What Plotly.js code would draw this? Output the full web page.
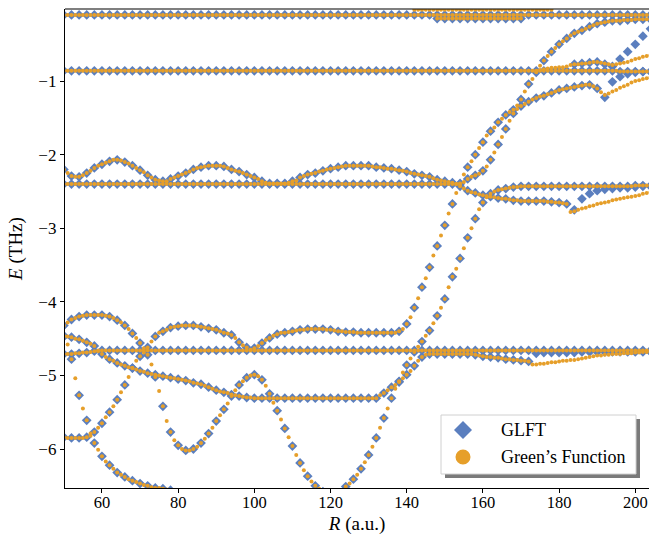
<!DOCTYPE html>
<html><head><meta charset="utf-8">
<script src="https://cdn.plot.ly/plotly-3.0.1.min.js"></script>
<style>html,body{margin:0;padding:0;background:#fff}#chart{width:649px;height:535px}</style>
</head><body><div id="chart"></div>
<script>
// ---- data (E in THz, read at integer R = r0, r0+1, ...) ----
const xTicks = [60, 80, 100, 120, 140, 160, 180, 200];
const yTicks = [-1, -2, -3, -4, -5, -6];
const yTickText = ['\u22121', '\u22122', '\u22123', '\u22124', '\u22125', '\u22126'];
const legendNames = ['GLFT', 'Green\u2019s Function'];

const bandA_r0 = 50;
const bandA = [
-0.10,-0.10,-0.10,-0.10,-0.10,-0.10,-0.10,-0.10,-0.10,-0.10,
-0.10,-0.10,-0.10,-0.10,-0.10,-0.10,-0.10,-0.10,-0.10,-0.10,
-0.10,-0.10,-0.10,-0.10,-0.10,-0.10,-0.10,-0.10,-0.10,-0.10,
-0.10,-0.10,-0.10,-0.10,-0.10,-0.10,-0.10,-0.10,-0.10,-0.10,
-0.10,-0.10,-0.10,-0.10,-0.10,-0.10,-0.10,-0.10,-0.10,-0.10,
-0.10,-0.10,-0.10,-0.10,-0.10,-0.10,-0.10,-0.10,-0.10,-0.10,
-0.10,-0.10,-0.10,-0.10,-0.10,-0.10,-0.10,-0.10,-0.10,-0.10,
-0.10,-0.10,-0.10,-0.10,-0.10,-0.10,-0.10,-0.10,-0.10,-0.10,
-0.10,-0.10,-0.10,-0.10,-0.10,-0.10,-0.10,-0.10,-0.10,-0.10,
-0.10,-0.10,-0.10,-0.10,-0.10,-0.10,-0.10,-0.10,-0.10,-0.10,
-0.10,-0.10,-0.10,-0.10,-0.10,-0.10,-0.10,-0.10,-0.10,-0.10,
-0.10,-0.10,-0.10,-0.10,-0.10,-0.10,-0.10,-0.10,-0.10,-0.10,
-0.10,-0.10,-0.10,-0.10,-0.10,-0.10,-0.10,-0.10,-0.10,-0.10,
-0.10,-0.10,-0.10,-0.10,-0.10,-0.10,-0.10,-0.10,-0.10,-0.10,
-0.10,-0.10,-0.10,-0.10,-0.10,-0.10,-0.10,-0.10,-0.10,-0.10,
-0.10,-0.10,-0.10,-0.10,-0.10];

const bandA2_r0 = 148;
const bandA2 = [
-0.15,-0.15,-0.15,-0.15,-0.15,-0.15,-0.15,-0.15,-0.15,-0.15,
-0.15,-0.15,-0.15,-0.15,-0.15,-0.15,-0.15,-0.15,-0.15,-0.15,
-0.15,-0.15,-0.15];

const bandA3_r0 = 142;   // Green's function only
const bandA3 = [
-0.03,-0.03,-0.03,-0.03,-0.03,-0.03,-0.03,-0.03,-0.03,-0.03,
-0.03,-0.03,-0.03,-0.03,-0.03,-0.03,-0.03,-0.03,-0.03,-0.03,
-0.03,-0.03,-0.03,-0.03,-0.03,-0.03,-0.03,-0.03,-0.03,-0.03,
-0.03,-0.03,-0.03,-0.03,-0.03,-0.03,-0.03];

const bandB_r0 = 50;
const bandB = [
-0.86,-0.86,-0.86,-0.86,-0.86,-0.86,-0.86,-0.86,-0.86,-0.86,
-0.86,-0.86,-0.86,-0.86,-0.86,-0.86,-0.86,-0.86,-0.86,-0.86,
-0.86,-0.86,-0.86,-0.86,-0.86,-0.86,-0.86,-0.86,-0.86,-0.86,
-0.86,-0.86,-0.86,-0.86,-0.86,-0.86,-0.86,-0.86,-0.86,-0.86,
-0.86,-0.86,-0.86,-0.86,-0.86,-0.86,-0.86,-0.86,-0.86,-0.86,
-0.86,-0.86,-0.86,-0.86,-0.86,-0.86,-0.86,-0.86,-0.86,-0.86,
-0.86,-0.86,-0.86,-0.86,-0.86,-0.86,-0.86,-0.86,-0.86,-0.86,
-0.86,-0.86,-0.86,-0.86,-0.86,-0.86,-0.86,-0.86,-0.86,-0.86,
-0.86,-0.86,-0.86,-0.86,-0.86,-0.86,-0.86,-0.86,-0.86,-0.86,
-0.86,-0.86,-0.86,-0.86,-0.86,-0.86,-0.86,-0.86,-0.86,-0.86,
-0.86,-0.86,-0.86,-0.86,-0.86,-0.86,-0.86,-0.86,-0.86,-0.86,
-0.86,-0.86,-0.86,-0.86,-0.86,-0.86,-0.86,-0.86,-0.86,-0.86,
-0.86,-0.86,-0.86,-0.86,-0.86,-0.86,-0.86,-0.86,-0.86,-0.86,
-0.86,-0.86,-0.86,-0.86,-0.86,-0.86,-0.86,-0.86,-0.86,-0.86,
-0.86,-0.86,-0.86,-0.86,-0.86,-0.86,-0.87,-0.87,-0.87,-0.87,
-0.87,-0.87,-0.87,-0.87,-0.87];

const bandBup_r0 = 174;
const bandBup = [
-0.86,-0.85,-0.84,-0.83,-0.82,-0.82,-0.81,-0.81,-0.80,-0.78,
-0.77,-0.77,-0.76,-0.76,-0.75,-0.74,-0.74,-0.75,-0.76,-0.77,
-0.78,-0.77,-0.76,-0.75,-0.74,-0.72,-0.70,-0.69,-0.67,-0.66,
-0.65];
const bandBup_glft_r0 = 184;   // GLFT, every 2 in R
const bandBup_glft = [-0.77,-0.76,-0.75,-0.74,-0.77,-0.80,-0.70,-0.60,-0.50,-0.39,-0.29];

const bandC_r0 = 50;
const bandC = [
-2.40,-2.40,-2.40,-2.40,-2.40,-2.40,-2.40,-2.40,-2.40,-2.40,
-2.40,-2.40,-2.40,-2.40,-2.40,-2.40,-2.40,-2.40,-2.40,-2.40,
-2.40,-2.40,-2.40,-2.40,-2.40,-2.40,-2.40,-2.40,-2.40,-2.40,
-2.40,-2.40,-2.40,-2.40,-2.40,-2.40,-2.40,-2.40,-2.40,-2.40,
-2.40,-2.40,-2.40,-2.40,-2.40,-2.40,-2.40,-2.40,-2.40,-2.40,
-2.40,-2.40,-2.40,-2.40,-2.40,-2.40,-2.40,-2.40,-2.40,-2.40,
-2.40,-2.40,-2.40,-2.40,-2.40,-2.40,-2.40,-2.40,-2.40,-2.40,
-2.40,-2.40,-2.40,-2.40,-2.40,-2.40,-2.40,-2.40,-2.40,-2.40,
-2.40,-2.40,-2.40,-2.40,-2.40,-2.40,-2.40,-2.40,-2.40,-2.40,
-2.40,-2.40,-2.40,-2.40,-2.40,-2.40,-2.40,-2.40,-2.40,-2.40,
-2.40,-2.40,-2.40,-2.40,-2.39,-2.37,-2.33,-2.30,-2.28,-2.26,
-2.22,-2.16,-2.07,-1.97,-1.86,-1.76,-1.65,-1.54,-1.44,-1.38,
-1.34,-1.31,-1.28,-1.25,-1.23,-1.21,-1.20,-1.18,-1.16,-1.14,
-1.12,-1.11,-1.10,-1.09,-1.08,-1.07,-1.06,-1.05,-1.05,-1.07,
-1.10,-1.15,-1.19,-1.17,-1.14,-1.12,-1.09,-1.07,-1.05,-1.02,
-1.00,-0.99,-0.97,-0.96,-0.95];
const bandC_glft_r0 = 190;
const bandC_glft = [-1.10,-1.22,-1.01,-0.94,-0.90,-0.88,-0.87,-0.87];

const bandD_r0 = 50;
const bandD = [
-2.20,-2.25,-2.29,-2.30,-2.30,-2.28,-2.25,-2.22,-2.18,-2.15,
-2.13,-2.11,-2.09,-2.07,-2.07,-2.08,-2.10,-2.12,-2.15,-2.18,
-2.21,-2.24,-2.28,-2.31,-2.34,-2.35,-2.36,-2.36,-2.33,-2.31,
-2.29,-2.27,-2.25,-2.23,-2.20,-2.18,-2.17,-2.16,-2.15,-2.15,
-2.15,-2.15,-2.16,-2.18,-2.20,-2.22,-2.23,-2.25,-2.27,-2.29,
-2.31,-2.33,-2.36,-2.38,-2.39,-2.39,-2.39,-2.39,-2.39,-2.38,
-2.36,-2.35,-2.31,-2.29,-2.27,-2.26,-2.25,-2.23,-2.22,-2.20,
-2.19,-2.18,-2.17,-2.16,-2.15,-2.15,-2.15,-2.15,-2.15,-2.15,
-2.15,-2.16,-2.17,-2.17,-2.18,-2.19,-2.19,-2.20,-2.21,-2.22,
-2.23,-2.25,-2.26,-2.27,-2.28,-2.29,-2.30,-2.32,-2.34,-2.35,
-2.36,-2.37,-2.38,-2.40,-2.43,-2.46,-2.49,-2.51,-2.52,-2.54,
-2.55,-2.56,-2.57,-2.58,-2.59,-2.60,-2.60,-2.61,-2.62,-2.62,
-2.63,-2.63,-2.63,-2.63,-2.63,-2.63,-2.63,-2.64,-2.64,-2.65,
-2.65,-2.66,-2.67,-2.78,-2.77,-2.75,-2.73,-2.72,-2.70,-2.69,
-2.67,-2.66,-2.65,-2.64,-2.62,-2.61,-2.60,-2.59,-2.58,-2.57,
-2.56,-2.55,-2.53,-2.52,-2.51];
const bandD_glft_r0 = 184;
const bandD_glft = [-2.75,-2.60,-2.53,-2.49,-2.47,-2.46,-2.45,-2.45,-2.44,-2.43,-2.43];

const bandE_r0 = 50;
const bandE = [
-4.71,-4.71,-4.71,-4.70,-4.70,-4.69,-4.69,-4.68,-4.67,-4.67,
-4.66,-4.66,-4.66,-4.66,-4.66,-4.66,-4.66,-4.66,-4.66,-4.66,
-4.66,-4.66,-4.66,-4.66,-4.66,-4.66,-4.66,-4.66,-4.66,-4.66,
-4.66,-4.66,-4.66,-4.66,-4.66,-4.66,-4.66,-4.66,-4.66,-4.66,
-4.66,-4.66,-4.66,-4.66,-4.66,-4.66,-4.66,-4.66,-4.66,-4.66,
-4.66,-4.66,-4.66,-4.66,-4.66,-4.66,-4.66,-4.66,-4.66,-4.66,
-4.66,-4.66,-4.66,-4.66,-4.66,-4.66,-4.66,-4.66,-4.66,-4.66,
-4.66,-4.66,-4.66,-4.66,-4.66,-4.66,-4.66,-4.66,-4.66,-4.66,
-4.66,-4.66,-4.66,-4.66,-4.66,-4.66,-4.66,-4.66,-4.66,-4.66,
-4.66,-4.66,-4.66,-4.66,-4.66,-4.66,-4.66,-4.66,-4.66,-4.66,
-4.66,-4.66,-4.66,-4.66,-4.66,-4.66,-4.66,-4.66,-4.66,-4.66,
-4.66,-4.66,-4.66,-4.66,-4.66,-4.66,-4.66,-4.66,-4.66,-4.66,
-4.66,-4.66,-4.66,-4.66,-4.66,-4.66,-4.66,-4.66,-4.66,-4.66,
-4.66,-4.66,-4.66,-4.66,-4.66,-4.66,-4.66,-4.66,-4.66,-4.66,
-4.66,-4.66,-4.66,-4.66,-4.66,-4.66,-4.66,-4.66,-4.66,-4.66,
-4.66,-4.66,-4.66,-4.66,-4.66];

const bandFV_r0 = 50;
const bandFV = [
-4.32,-4.28,-4.24,-4.22,-4.20,-4.19,-4.18,-4.18,-4.18,-4.18,
-4.18,-4.19,-4.20,-4.22,-4.25,-4.28,-4.32,-4.37,-4.43,-4.49,
-4.56,-4.63,-4.72,-4.85,-5.02,-5.21,-5.42,-5.62,-5.77,-5.88,
-5.95,-6.00,-6.02,-6.02,-6.00,-5.97,-5.92,-5.86,-5.79,-5.71,
-5.62,-5.54,-5.46,-5.38,-5.28,-5.20,-5.13,-5.08,-5.03,-5.00,
-4.99,-5.01,-5.06,-5.14,-5.25,-5.37,-5.48,-5.60,-5.72,-5.84,
-5.96,-6.08,-6.19,-6.29,-6.37,-6.44,-6.50,-6.54,-6.58,-6.61,
-6.62,-6.62,-6.61,-6.57,-6.51,-6.47,-6.41,-6.35,-6.27,-6.18,
-6.08,-5.97,-5.85,-5.71,-5.58,-5.45,-5.31,-5.18,-5.08,-4.96,
-4.86,-4.77,-4.68,-4.61,-4.54,-4.46,-4.39,-4.29,-4.19,-4.08,
-3.96,-3.80,-3.66,-3.55,-3.41,-3.27,-3.13,-3.00,-2.87,-2.74,
-2.65,-2.58,-2.53,-2.50,-2.48,-2.47,-2.46,-2.45,-2.44,-2.44,
-2.43,-2.43,-2.43,-2.43,-2.43,-2.43,-2.43,-2.43,-2.43,-2.43,
-2.43,-2.43,-2.43,-2.43,-2.43,-2.43,-2.43,-2.43,-2.43,-2.43,
-2.43,-2.43,-2.43,-2.43,-2.43,-2.43,-2.43,-2.43,-2.43,-2.43,
-2.42,-2.42,-2.42,-2.42,-2.42];

const bandHL_r0 = 50;
const bandHL = [
-5.84,-5.85,-5.85,-5.85,-5.85,-5.85,-5.84,-5.82,-5.77,-5.71,
-5.65,-5.57,-5.50,-5.42,-5.33,-5.23,-5.13,-5.02,-4.90,-4.80,
-4.74,-4.69,-4.62,-4.54,-4.47,-4.42,-4.40,-4.38,-4.35,-4.34,
-4.33,-4.32,-4.32,-4.32,-4.32,-4.33,-4.34,-4.35,-4.36,-4.37,
-4.38,-4.40,-4.42,-4.43,-4.45,-4.49,-4.55,-4.59,-4.62,-4.65,
-4.63,-4.60,-4.56,-4.52,-4.49,-4.46,-4.44,-4.42,-4.42,-4.41,
-4.40,-4.39,-4.38,-4.38,-4.37,-4.37,-4.37,-4.37,-4.37,-4.38,
-4.38,-4.39,-4.40,-4.40,-4.41,-4.41,-4.41,-4.42,-4.42,-4.42,
-4.42,-4.42,-4.42,-4.42,-4.42,-4.42,-4.42,-4.42,-4.40,-4.37,
-4.30,-4.21,-4.08,-3.95,-3.80,-3.68,-3.53,-3.37,-3.24,-3.10,
-2.96,-2.80,-2.67,-2.52,-2.40,-2.27,-2.17,-2.09,-2.00,-1.91,
-1.83,-1.74,-1.68,-1.63,-1.56,-1.51,-1.46,-1.42,-1.39,-1.33,
-1.25,-1.14,-1.04,-0.97,-0.88,-0.79,-0.72,-0.66,-0.60,-0.55,
-0.50,-0.46,-0.42,-0.38,-0.35,-0.33,-0.31,-0.29,-0.26,-0.24,
-0.22,-0.21,-0.20,-0.19,-0.18,-0.18,-0.18,-0.17,-0.17,-0.17,
-0.16,-0.16,-0.16,-0.16,-0.16];

const bandG_r0 = 50;
const bandG = [
-4.46,-4.47,-4.48,-4.50,-4.51,-4.53,-4.55,-4.57,-4.60,-4.66,
-4.71,-4.75,-4.78,-4.80,-4.83,-4.85,-4.87,-4.89,-4.90,-4.92,
-4.94,-4.95,-4.97,-4.98,-4.99,-5.00,-5.01,-5.02,-5.03,-5.04,
-5.05,-5.06,-5.07,-5.08,-5.10,-5.11,-5.12,-5.14,-5.16,-5.18,
-5.20,-5.22,-5.23,-5.24,-5.26,-5.27,-5.28,-5.29,-5.30,-5.30,
-5.31,-5.31,-5.31,-5.31,-5.31,-5.31,-5.31,-5.31,-5.31,-5.31,
-5.31,-5.31,-5.31,-5.31,-5.31,-5.31,-5.31,-5.31,-5.31,-5.31,
-5.31,-5.31,-5.31,-5.31,-5.31,-5.31,-5.31,-5.31,-5.31,-5.31,
-5.31,-5.31,-5.31,-5.27,-5.24,-5.20,-5.16,-5.13,-5.09,-5.04,
-4.99,-4.94,-4.87,-4.80,-4.75,-4.72,-4.71,-4.71,-4.71,-4.71,
-4.71,-4.71,-4.71,-4.71,-4.71,-4.71,-4.71,-4.71,-4.72,-4.73,
-4.74,-4.75,-4.75,-4.76,-4.76,-4.77,-4.78,-4.78,-4.79,-4.79,
-4.80,-4.80,-4.81,-4.85,-4.85,-4.84,-4.84,-4.83,-4.82,-4.82,
-4.81,-4.80,-4.80,-4.79,-4.79,-4.78,-4.77,-4.76,-4.75,-4.74,
-4.73,-4.73,-4.72,-4.72,-4.71,-4.71,-4.71,-4.70,-4.70,-4.70,
-4.69,-4.69,-4.68,-4.68,-4.68];
const bandG_glft_r0 = 174;
const bandG_glft = [-4.70,-4.69,-4.69,-4.69,-4.69,-4.69,-4.68,-4.68,-4.68,-4.68,-4.68,-4.68,-4.68,-4.68,-4.68,-4.68];

const bandJ_r0 = 50;
const bandJ = [
-4.47,-4.58,-4.78,-5.04,-5.27,-5.45,-5.61,-5.79,-5.92,-6.01,
-6.10,-6.17,-6.22,-6.27,-6.32,-6.35,-6.38,-6.41,-6.43,-6.45,
-6.47,-6.49,-6.50,-6.52,-6.53,-6.53,-6.54,-6.55,-6.56,-6.57];

// ---- build point sets ----
const chains = [
  {r0: bandA_r0, e: bandA},
  {r0: bandA2_r0, e: bandA2},
  {r0: bandA3_r0, e: bandA3, gfOnly: true},
  {r0: bandB_r0, e: bandB},
  {r0: bandBup_r0, e: bandBup, glftR0: bandBup_glft_r0, glft: bandBup_glft, glftOnlyTail: true},
  {r0: bandC_r0, e: bandC, glftR0: bandC_glft_r0, glft: bandC_glft},
  {r0: bandD_r0, e: bandD, glftR0: bandD_glft_r0, glft: bandD_glft},
  {r0: bandE_r0, e: bandE},
  {r0: bandFV_r0, e: bandFV},
  {r0: bandHL_r0, e: bandHL},
  {r0: bandG_r0, e: bandG, glftR0: bandG_glft_r0, glft: bandG_glft},
  {r0: bandJ_r0, e: bandJ}
];

const gx = [], gy = [], lx = [], ly = [];
chains.forEach(c => {
  c.e.forEach((v, i) => {
    const r = c.r0 + i;
    gx.push(r); gy.push(v);
    if (c.gfOnly || c.glftOnlyTail) return;
    if (c.glftR0 !== undefined && r >= c.glftR0) return;
    if (r % 2 === 0) { lx.push(r); ly.push(v); }
  });
  if (c.glft) c.glft.forEach((v, k) => { lx.push(c.glftR0 + 2 * k); ly.push(v); });
});

const BLUE = '#5b7fbf';
const ORANGE = '#e69f2a';
const FONT = "'Liberation Serif', 'DejaVu Serif', serif";

const traces = [
  {type: 'scatter', mode: 'markers', x: lx, y: ly, name: legendNames[0], showlegend: false, hoverinfo: 'skip',
   marker: {symbol: 'diamond', size: 7.5, color: BLUE}},
  {type: 'scatter', mode: 'markers', x: gx, y: gy, name: legendNames[1], showlegend: false, hoverinfo: 'skip',
   marker: {symbol: 'circle', size: 4, color: ORANGE}}
];

// ---- frame geometry (pixels) ----
const L = 65, T = 9, W = 649, H = 535, B = 47;
const pw = W - L, ph = H - T - B;
const px = v => (v - L) / pw;
const py = v => 1 - (v - T) / ph;

// legend box drawn with shapes
const lg = {x0: 441, x1: 636, y0: 415, y1: 474, mx: 463, my1: 430, my2: 457, tx: 499};
const diamondPath = (cx, cy, r) =>
  `M${px(cx - r)},${py(cy)} L${px(cx)},${py(cy - r)} L${px(cx + r)},${py(cy)} L${px(cx)},${py(cy + r)} Z`;

const layout = {
  width: W, height: H,
  margin: {l: L, r: 0, t: T, b: B, pad: 0},
  paper_bgcolor: '#fff', plot_bgcolor: '#fff',
  font: {family: FONT, size: 17, color: '#000'},
  showlegend: false,
  xaxis: {range: [50.3, 203.6], tickvals: xTicks, ticks: 'outside', ticklen: 4, tickwidth: 1,
          tickcolor: '#000', showline: true, linecolor: '#000', linewidth: 1.2,
          showgrid: false, zeroline: false, tickfont: {family: FONT, size: 16.5},
          ticklabeloverflow: 'allow', ticklabelstandoff: -5,
          title: {text: '<i>R</i> (a.u.)', font: {family: FONT, size: 19}, standoff: 8}},
  yaxis: {range: [-6.53, -0.02], tickvals: yTicks, ticktext: yTickText, ticks: 'outside',
          ticklen: 4, tickwidth: 1, tickcolor: '#000', showline: true, linecolor: '#000',
          linewidth: 1.2, showgrid: false, zeroline: false, tickfont: {family: FONT, size: 17},
          title: {text: '<i>E</i> (THz)', font: {family: FONT, size: 19}, standoff: 10}},
  shapes: [
    {type: 'line', xref: 'paper', yref: 'paper', x0: 0, x1: 1, y0: 1, y1: 1,
     line: {color: '#000', width: 1.2}},
    {type: 'rect', xref: 'paper', yref: 'paper', x0: px(lg.x0 + 4), x1: px(lg.x1 + 4), y0: py(lg.y1 + 4), y1: py(lg.y0 + 4),
     fillcolor: '#7a7a7a', line: {width: 0}, layer: 'above'},
    {type: 'rect', xref: 'paper', yref: 'paper', x0: px(lg.x0), x1: px(lg.x1), y0: py(lg.y1), y1: py(lg.y0),
     fillcolor: '#ffffff', line: {color: '#d0d0d0', width: 1}, layer: 'above'},
    {type: 'path', xref: 'paper', yref: 'paper', path: diamondPath(lg.mx, lg.my1, 9),
     fillcolor: BLUE, line: {width: 0}, layer: 'above'},
    {type: 'circle', xref: 'paper', yref: 'paper', x0: px(lg.mx - 7.5), x1: px(lg.mx + 7.5),
     y0: py(lg.my2 + 7.5), y1: py(lg.my2 - 7.5), fillcolor: ORANGE, line: {width: 0}, layer: 'above'}
  ],
  annotations: [
    {xref: 'paper', yref: 'paper', x: px(lg.tx), y: py(lg.my1), xanchor: 'left', yanchor: 'middle',
     text: legendNames[0], showarrow: false, font: {family: FONT, size: 18}},
    {xref: 'paper', yref: 'paper', x: px(lg.tx), y: py(lg.my2), xanchor: 'left', yanchor: 'middle',
     text: legendNames[1], showarrow: false, font: {family: FONT, size: 18}}
  ]
};

Plotly.newPlot('chart', traces, layout, {staticPlot: true, displayModeBar: false});
</script>
</body></html>
